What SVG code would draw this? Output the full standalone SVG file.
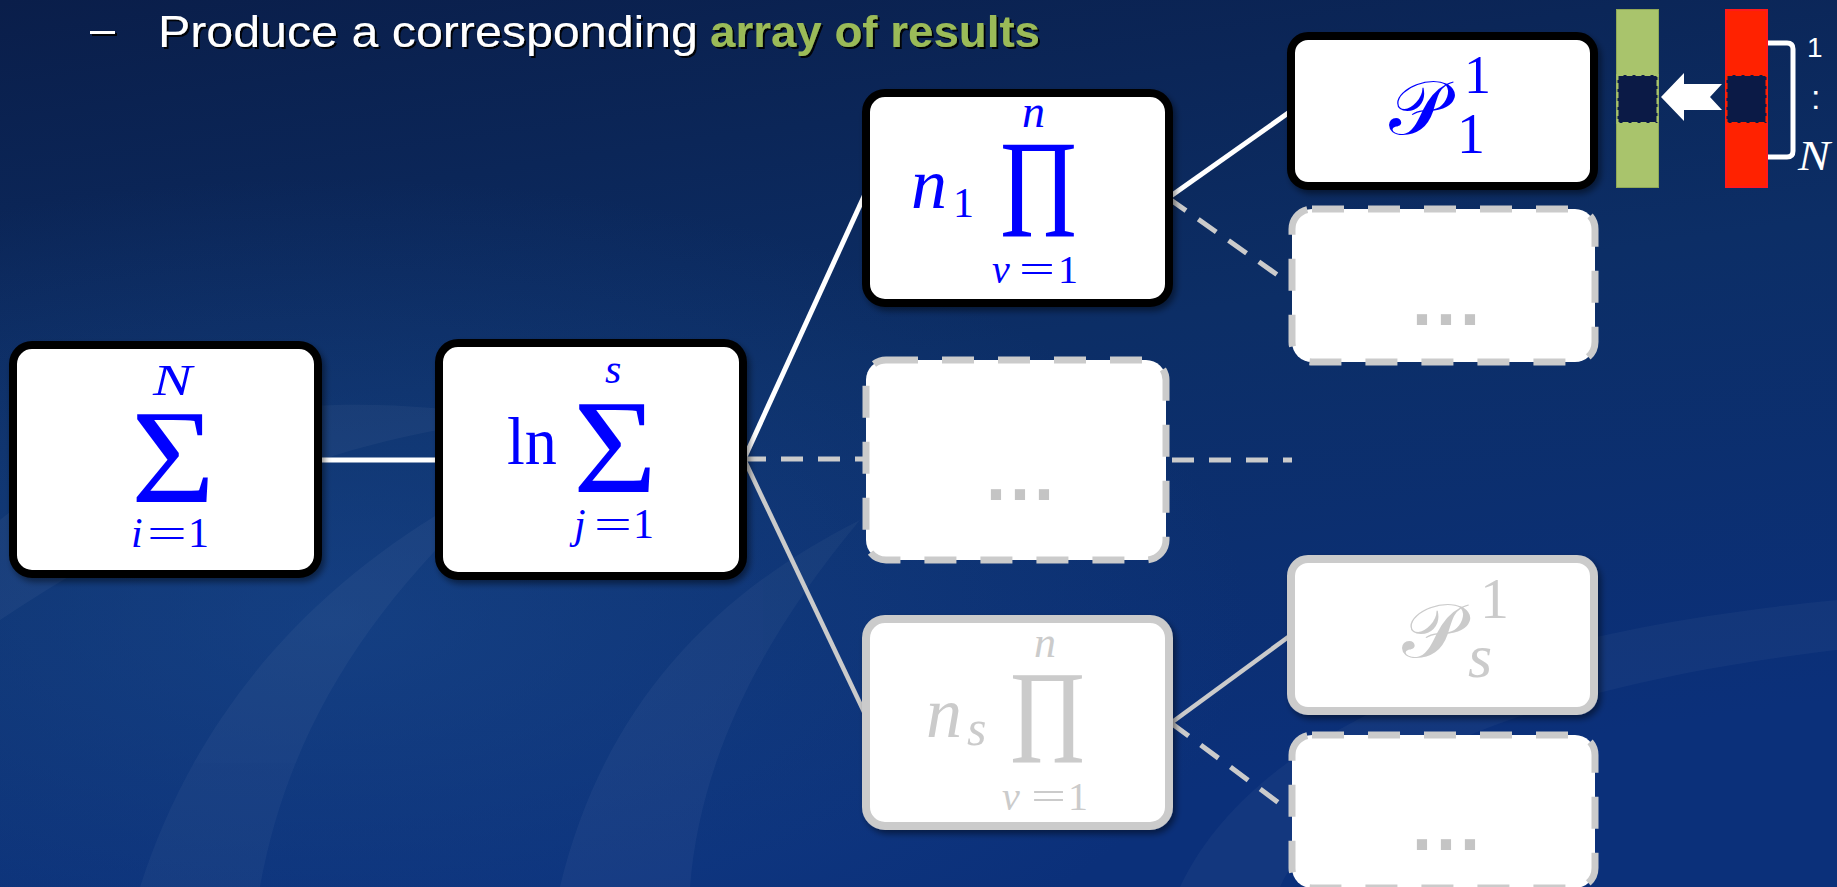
<svg xmlns="http://www.w3.org/2000/svg" width="1837" height="887" viewBox="0 0 1837 887">
<defs>
<linearGradient id="bg" x1="0" y1="0" x2="0.3" y2="1">
<stop offset="0" stop-color="#0a1e4a"/>
<stop offset="0.5" stop-color="#0c2e66"/>
<stop offset="1" stop-color="#0b307a"/>
</linearGradient>
<radialGradient id="glow" cx="0.18" cy="0.7" r="0.5">
<stop offset="0" stop-color="#1d4f96" stop-opacity="0.5"/>
<stop offset="1" stop-color="#1d4f96" stop-opacity="0"/>
</radialGradient>
<filter id="sh" x="-10%" y="-10%" width="125%" height="130%">
<feDropShadow dx="3" dy="4" stdDeviation="3" flood-color="#000" flood-opacity="0.45"/>
</filter>
<filter id="tsh" x="-5%" y="-20%" width="110%" height="150%">
<feDropShadow dx="2" dy="2" stdDeviation="0.6" flood-color="#000" flood-opacity="0.9"/>
</filter>
<style>
.solid{fill:#fff;stroke:#000;stroke-width:8}
.gsolid{fill:#fff;stroke:#cbcbcb;stroke-width:8}
.dash{fill:#fff;stroke:#cbcbcb;stroke-width:7;stroke-dasharray:32 24}
.m{font-family:"Liberation Serif","DejaVu Serif",serif;fill:#0000ff}
.g{fill:#cbcbcb}
.i{font-style:italic}
.dots{font-family:"Liberation Sans",Arial,sans-serif;font-weight:bold;font-size:72px;fill:#c4c4c4;letter-spacing:4px}
.cw{stroke:#fff;stroke-width:5;fill:none}
.cg{stroke:#cbcbcb;stroke-width:4.5;fill:none}
.cd{stroke:#cbcbcb;stroke-width:5;fill:none;stroke-dasharray:22 15}
.title{font-family:"Liberation Sans",Arial,sans-serif;font-size:45px}
</style>
</defs>
<rect width="1837" height="887" fill="url(#bg)"/>
<rect width="1837" height="887" fill="url(#glow)"/>
<g fill="#ffffff" opacity="0.035">
<path d="M0,520 C120,420 300,380 520,420 C360,430 180,500 0,620 Z"/>
<path d="M140,887 C200,700 330,560 520,470 C380,590 290,720 260,887 Z"/>
<path d="M560,887 C600,720 700,600 860,520 C760,640 700,760 690,887 Z"/>
<path d="M1180,887 C1240,760 1420,640 1837,600 L1837,650 C1500,690 1330,780 1280,887 Z"/>
</g>

<g id="title" filter="url(#tsh)">
<text class="title" x="90" y="44" fill="#fff">–</text>
<text class="title" x="158" y="47" fill="#fff" textLength="540" lengthAdjust="spacingAndGlyphs">Produce a corresponding</text>
<text class="title" x="710" y="47" fill="#9bbb59" font-weight="bold" textLength="330" lengthAdjust="spacingAndGlyphs">array of results</text>
</g>

<g id="connectors">
<line class="cw" x1="320" y1="460" x2="437" y2="460"/>
<line class="cw" x1="744" y1="459" x2="866" y2="192"/>
<line class="cd" x1="744" y1="459" x2="866" y2="459"/>
<line class="cg" x1="744" y1="459" x2="866" y2="716"/>
<line class="cd" x1="1172" y1="460" x2="1292" y2="460"/>
<line class="cw" x1="1168" y1="198" x2="1291" y2="111"/>
<line class="cd" x1="1168" y1="198" x2="1279" y2="276"/>
<line class="cg" x1="1171" y1="723" x2="1291" y2="635"/>
<line class="cd" x1="1171" y1="723" x2="1279" y2="803"/>
</g>

<g id="nodeA">
<rect class="solid" x="13" y="345" width="305" height="229" rx="19" filter="url(#sh)"/>
<text class="m i" x="153" y="395" font-size="45" textLength="39" lengthAdjust="spacingAndGlyphs">N</text>
<text class="m" x="131" y="502" font-size="134" textLength="84" lengthAdjust="spacingAndGlyphs">Σ</text>
<text class="m" x="131" y="547" font-size="42"><tspan class="i">i</tspan><tspan x="147" textLength="40" lengthAdjust="spacingAndGlyphs">=</tspan><tspan x="188">1</tspan></text>
</g>

<g id="nodeB">
<rect class="solid" x="439" y="343" width="304" height="233" rx="19" filter="url(#sh)"/>
<text class="m i" x="605" y="383" font-size="42">s</text>
<text class="m" x="507" y="464" font-size="67" textLength="50" lengthAdjust="spacingAndGlyphs">ln</text>
<text class="m" x="573" y="492" font-size="134" textLength="84" lengthAdjust="spacingAndGlyphs">Σ</text>
<text class="m" x="574" y="538" font-size="42"><tspan class="i">j</tspan><tspan x="594" textLength="38" lengthAdjust="spacingAndGlyphs">=</tspan><tspan x="633">1</tspan></text>
</g>

<g id="nodeC">
<rect class="solid" x="866" y="93" width="303" height="210" rx="19" filter="url(#sh)"/>
<text class="m i" x="911" y="208" font-size="72">n</text>
<text class="m" x="953" y="217" font-size="42">1</text>
<text class="m" x="1000" y="237" font-size="139" textLength="77" lengthAdjust="spacingAndGlyphs">Π</text>
<text class="m i" x="1022" y="127" font-size="46">n</text>
<text class="m" x="992" y="283" font-size="40"><tspan class="i">v</tspan><tspan x="1019" textLength="36" lengthAdjust="spacingAndGlyphs">=</tspan><tspan x="1058">1</tspan></text>
</g>

<g id="nodeD">
<rect class="dash" x="866" y="360" width="300" height="200" rx="20"/>
<text class="dots" x="986" y="500">...</text>
</g>

<g id="nodeE">
<rect class="gsolid" x="866" y="619" width="303" height="207" rx="19" filter="url(#sh)"/>
<text class="m g i" x="926" y="737" font-size="72">n</text>
<text class="m g i" x="967" y="745" font-size="50">s</text>
<text class="m g" x="1010" y="763" font-size="133" textLength="75" lengthAdjust="spacingAndGlyphs">Π</text>
<text class="m g i" x="1034" y="657" font-size="44">n</text>
<text class="m g" x="1002" y="810" font-size="40"><tspan class="i">v</tspan><tspan x="1031" textLength="35" lengthAdjust="spacingAndGlyphs">=</tspan><tspan x="1068">1</tspan></text>
</g>

<g id="nodeF">
<rect class="solid" x="1291" y="36" width="303" height="150" rx="17" filter="url(#sh)"/>
<text class="m" x="1389" y="134" font-size="76" textLength="58" lengthAdjust="spacingAndGlyphs">𝒫</text>
<text class="m" x="1464" y="93" font-size="54">1</text>
<text class="m" x="1457" y="153" font-size="56">1</text>
</g>

<g id="nodeG">
<rect class="dash" x="1292" y="209" width="303" height="153" rx="20"/>
<text class="dots" x="1412" y="325">...</text>
</g>

<g id="nodeH">
<rect class="gsolid" x="1291" y="559" width="303" height="152" rx="17" filter="url(#sh)"/>
<text class="m g" x="1402" y="657" font-size="76" textLength="60" lengthAdjust="spacingAndGlyphs">𝒫</text>
<text class="m g" x="1480" y="618" font-size="58">1</text>
<text class="m g i" x="1468" y="677" font-size="62">s</text>
</g>

<g id="nodeI">
<rect class="dash" x="1292" y="735" width="303" height="153" rx="20"/>
<text class="dots" x="1412" y="850">...</text>
</g>

<g id="arrays">
<rect x="1616.5" y="9.5" width="42" height="178" fill="#a9c46c" stroke="#8fa858" stroke-width="1"/>
<rect x="1617.5" y="75" width="40" height="48" fill="#0b1a46" stroke="#a9c46c" stroke-width="2" stroke-dasharray="6 3"/>
<rect x="1726" y="10" width="41" height="177" fill="#ff2200" stroke="#ff1a1a" stroke-width="2"/>
<rect x="1726.5" y="75" width="40" height="48" fill="#0b1a46" stroke="#ff2200" stroke-width="2" stroke-dasharray="6 3"/>
<path d="M1661,97 L1684,73 L1684,84 L1722,84 L1710,97 L1722,110 L1684,110 L1684,121 Z" fill="#fff"/>
<path d="M1768,43 H1787 Q1793,43 1793,49 V151 Q1793,157 1787,157 H1768" fill="none" stroke="#fff" stroke-width="5"/>
<text x="1807" y="57" font-family="Liberation Sans,Arial,sans-serif" font-size="28" fill="#fff">1</text>
<text x="1811" y="109" font-family="Liberation Sans,Arial,sans-serif" font-size="34" fill="#fff">:</text>
<text x="1798" y="170" font-family="Liberation Serif,serif" font-style="italic" font-size="42" fill="#fff" textLength="32" lengthAdjust="spacingAndGlyphs">N</text>
</g>
</svg>
